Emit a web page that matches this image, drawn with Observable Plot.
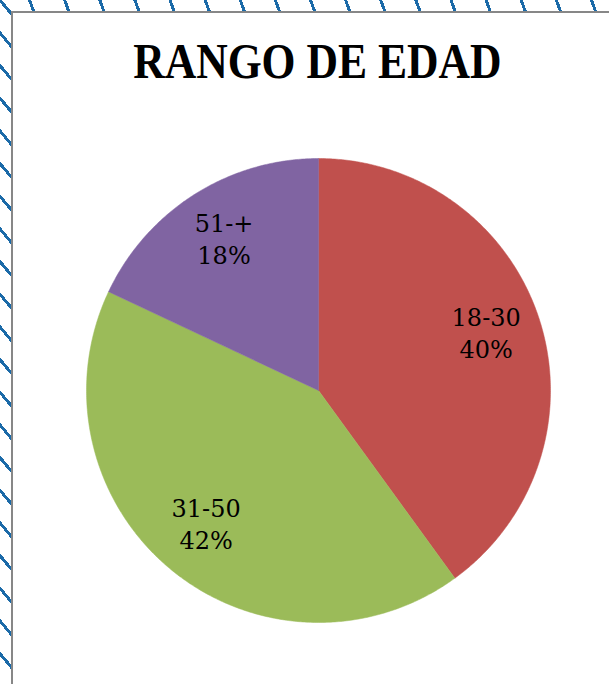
<!DOCTYPE html>
<html>
<head>
<meta charset="utf-8">
<script src="https://cdn.jsdelivr.net/npm/d3@7"></script>
<script src="https://cdn.jsdelivr.net/npm/@observablehq/plot@0.6"></script>
<style>
  html, body { margin: 0; padding: 0; background: #fff; }
  body { width: 609px; height: 684px; overflow: hidden; position: relative; }
  #hatchTop { position: absolute; left: 0; top: 0; width: 609px; height: 11px;
    background: repeating-linear-gradient(70deg, transparent 0 30px, #1b6aa8 30px 33px); }
  #hatchLeft { position: absolute; left: 0; top: 0; width: 11px; height: 684px;
    background: repeating-linear-gradient(50deg, transparent 0 18px, #1b6aa8 18px 21px); }
  #frame { position: absolute; left: 11px; top: 11px; width: 640px; height: 720px;
    border: 2px solid #878787; background: #fff; box-sizing: border-box; }
  #title { position: absolute; left: 0; top: 36px; width: 634px; text-align: center;
    font-family: "Liberation Serif", serif; font-weight: bold; font-size: 51px; line-height: 51px;
    color: #000; }
  #title span { display: inline-block; transform: scaleX(0.855); transform-origin: center; }
  #chart { position: absolute; left: 0; top: 110px; }
</style>
</head>
<body>
<div id="hatchTop"></div>
<div id="hatchLeft"></div>
<div id="frame"></div>
<div id="title"><span>RANGO DE EDAD</span></div>
<div id="chart"></div>
<script>
const categories = ["18-30", "31-50", "51-+"];
const values = [40, 42, 18];
const percentLabels = ["40%", "42%", "18%"];
const colors = ["#C0504D", "#9BBB59", "#8064A2"];

const arcs = d3.pie().sort(null).value(d => d)(values);

const slicePoints = [];
arcs.forEach((a, i) => {
  const cat = categories[i];
  slicePoints.push({cat, x: 0, y: 0});
  const n = Math.max(2, Math.ceil((a.endAngle - a.startAngle) / (Math.PI / 360)));
  for (let k = 0; k <= n; k++) {
    const t = a.startAngle + (a.endAngle - a.startAngle) * k / n;
    slicePoints.push({cat, x: Math.sin(t), y: Math.cos(t)});
  }
  slicePoints.push({cat, x: 0, y: 0});
});

const labelRadius = 0.76;
const labels = arcs.map((a, i) => {
  const m = (a.startAngle + a.endAngle) / 2;
  return {x: labelRadius * Math.sin(m), y: labelRadius * Math.cos(m), text: categories[i] + "\n" + percentLabels[i]};
});

const chart = Plot.plot({
  width: 609,
  height: 574,
  margin: 0,
  style: {background: "transparent", fontFamily: "DejaVu Serif"},
  x: {domain: [-1, 1], range: [86, 550], axis: null},
  y: {domain: [-1, 1], range: [512, 48], axis: null},
  color: {domain: categories, range: colors},
  marks: [
    Plot.line(slicePoints, {x: "x", y: "y", z: "cat", fill: "cat", stroke: "cat", strokeWidth: 0.5}),
    Plot.text(labels, {x: "x", y: "y", dy: -4, text: "text", fontSize: 24, fontFamily: "DejaVu Serif", lineHeight: 1.33, fill: "#000"})
  ]
});
document.getElementById("chart").appendChild(chart);
</script>
</body>
</html>
